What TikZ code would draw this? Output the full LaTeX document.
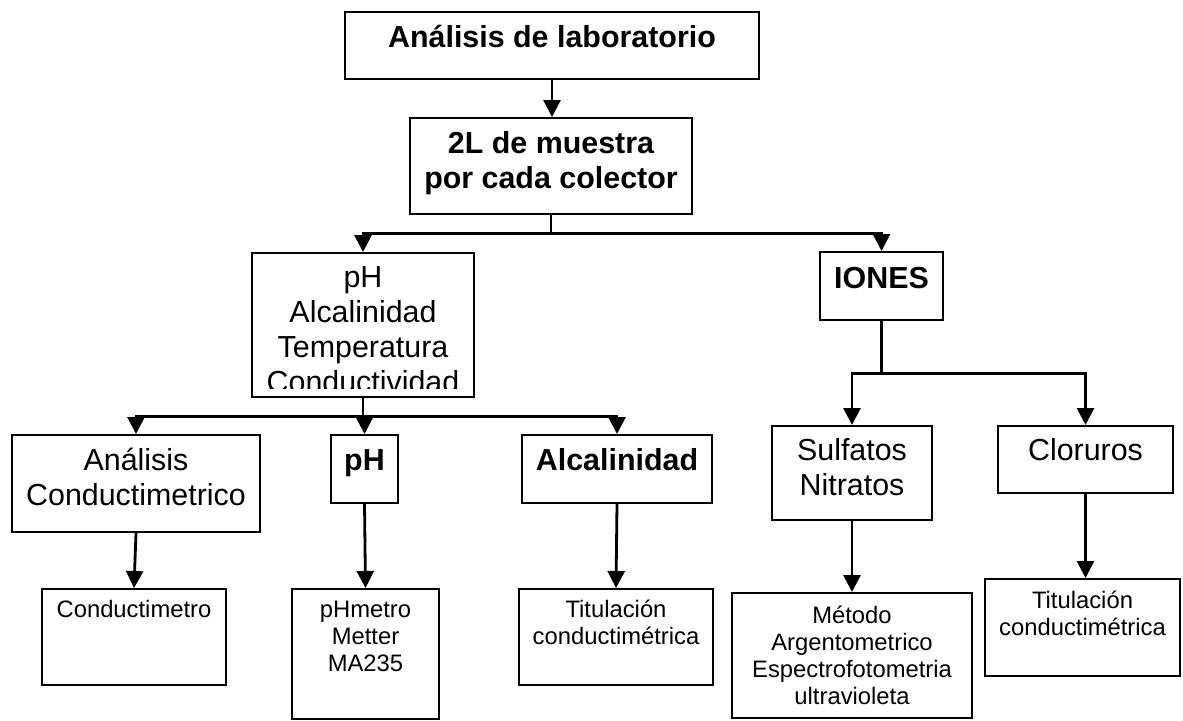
\documentclass[tikz,border=0pt]{standalone}
\usepackage{fontspec}
\setmainfont{Liberation Sans}
\usetikzlibrary{arrows.meta}

\newcommand{\bigtext}{\fontsize{15.2}{17.5}\selectfont}
\newcommand{\smalltext}{\fontsize{11.9}{13.5}\selectfont}

\begin{document}
\begin{tikzpicture}[
      x=0.5pt, y=-0.5pt, % one unit = one pixel of the layout
      block/.style={
          rectangle,
          draw=black,
          line width=0.9pt,
          inner sep=0pt,
          align=center,
          anchor=north,           % boxes hang from their top edge
          font=\bigtext
      },
      boldblock/.style={block, font=\bigtext\bfseries},
      smallblock/.style={block, font=\smalltext},
      arrow/.style={-{Triangle[length=8.5pt,width=8.5pt]}, line width=1.4pt}
  ]
      \useasboundingbox (0,0) rectangle (1183,720);

      % Nodes (text height is measured up from the last line)
      \node (lab) [boldblock, minimum width=207pt, text height=18pt, text depth=15.5pt] at (552,11) {Análisis de laboratorio};
      \node (muestra) [boldblock, minimum width=141pt, text height=35.5pt, text depth=12.5pt] at (551,117) {2L de muestra\\por cada colector};
      \node (param) [block, minimum width=111pt, text height=70pt, text depth=2pt] at (363,252) {pH\\Alcalinidad\\Temperatura\\Conductividad};
      \node (iones) [boldblock, minimum width=61.5pt, text height=18.5pt, text depth=15.5pt] at (881.5,251) {IONES};
      \node (conduc) [block, minimum width=124pt, text height=35.5pt, text depth=13pt] at (136,434) {Análisis\\Conductimetrico};
      \node (ph) [boldblock, minimum width=33.5pt, text height=18pt, text depth=16pt] at (364.5,434) {pH};
      \node (alcal) [boldblock, minimum width=95pt, text height=18pt, text depth=16pt] at (617,434) {Alcalinidad};
      \node (sulf) [block, minimum width=80pt, text height=35pt, text depth=12pt] at (852,425) {Sulfatos\\Nitratos};
      \node (clor) [block, minimum width=87.5pt, text height=17.5pt, text depth=16pt] at (1085.5,425) {Cloruros};
      \node (conductimetro) [smallblock, minimum width=92pt, text height=14.5pt, text depth=33.5pt] at (134,588) {Conductimetro};
      \node (phmetro) [smallblock, minimum width=73.5pt, text height=41.5pt, text depth=23.7pt] at (365.5,588) {pHmetro\\Metter\\MA235};
      \node (titul) [smallblock, minimum width=97pt, text height=28pt, text depth=20pt] at (616,588) {Titulación\\conductimétrica};
      \node (metodo) [smallblock, minimum width=120pt, text height=56pt, text depth=6.5pt] at (852,592) {Método\\Argentometrico\\Espectrofotometria\\ultravioleta};
      \node (titulcl) [smallblock, minimum width=97.5pt, text height=28.5pt, text depth=20pt] at (1082.5,578) {Titulación\\conductimétrica};

      % last line of the parameter box is cut off
      \fill [white] ([xshift=0.8pt,yshift=0.8pt]param.south west) rectangle ([xshift=-0.8pt,yshift=4.5pt]param.south east);

      % Branch points
      \coordinate (splitA) at ([yshift=-9.5pt]muestra.south);
      \coordinate (splitP) at ([yshift=-9.5pt]param.south);
      \coordinate (splitI) at ([yshift=-26.5pt]iones.south);

      % Arrows
      \draw [arrow] (lab.south) -- (lab.south |- muestra.north);
      \draw [arrow] (muestra.south) -- (splitA) -| (param.north);
      \draw [arrow] (splitA) -| (iones.north);
      \draw [arrow] (param.south) -- (splitP) -| (conduc.north);
      \draw [arrow] (splitP) -| (ph.north);
      \draw [arrow] (splitP) -| (alcal.north);
      \draw [arrow] (iones.south) -- (splitI) -| (sulf.north);
      \draw [arrow] (splitI) -| (clor.north);
      \draw [arrow] (conduc.south) -- (conductimetro.north);
      \draw [arrow] (ph.south) -- (phmetro.north);
      \draw [arrow] (alcal.south) -- (titul.north);
      \draw [arrow] (sulf.south) -- (metodo.north);
      \draw [arrow] (clor.south) -- (clor.south |- titulcl.north);
  \end{tikzpicture}
\end{document}
